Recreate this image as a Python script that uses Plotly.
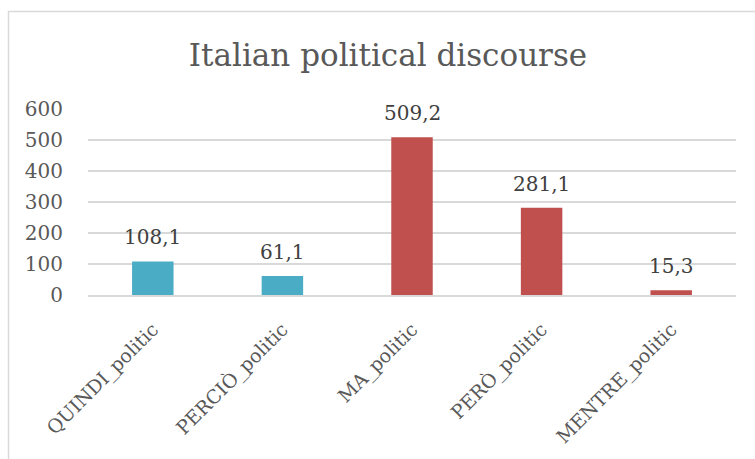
import plotly.graph_objects as go

categories = ["QUINDI_politic", "PERCIÒ_politic", "MA_politic", "PERÒ_politic", "MENTRE_politic"]
values = [108.1, 61.1, 509.2, 281.1, 15.3]
colors = ["#4BACC6", "#4BACC6", "#C0504D", "#C0504D", "#C0504D"]
y_ticks = [0, 100, 200, 300, 400, 500, 600]
title = "Italian political discourse"

FONT = "DejaVu Serif"
TXT = "#595959"

fig = go.Figure()
fig.add_trace(go.Bar(x=categories, y=values, marker=dict(color=colors, line=dict(width=0)),
                     hoverinfo="skip"))

for c, v in zip(categories, values):
    fig.add_annotation(x=c, y=v, text=f"{v:.1f}".replace(".", ","), showarrow=False,
                       yshift=24, font=dict(family=FONT, size=20, color="#404040"))

fig.update_layout(
    width=755, height=459,
    margin=dict(l=88, r=19, t=109, b=164),
    paper_bgcolor="white", plot_bgcolor="white",
    bargap=0.68,
    showlegend=False,
    title=dict(text=title, x=388/755, xanchor="center", y=1-55/459, yanchor="middle",
               font=dict(family=FONT, size=31, color=TXT)),
    xaxis=dict(tickangle=-45, tickfont=dict(family=FONT, size=19, color=TXT),
               showgrid=False, showline=True, linecolor="#D9D9D9", linewidth=2,
               ticks="outside", ticklen=14, tickcolor="rgba(0,0,0,0)"),
    yaxis=dict(range=[0, 600], tickvals=y_ticks, tickfont=dict(family=FONT, size=20, color=TXT),
               showgrid=True, gridcolor="#D9D9D9", gridwidth=2, zeroline=False,
               ticks="outside", ticklen=20, tickcolor="rgba(0,0,0,0)"),
    shapes=[dict(type="rect", xref="paper", yref="paper",
                 x0=(8.5-88)/648, x1=(770-88)/648, y0=(295-470)/186, y1=(295-11.5)/186,
                 line=dict(color="#D9D9D9", width=1.5), fillcolor="rgba(0,0,0,0)", layer="below")],
)

fig.write_html("out.html")
